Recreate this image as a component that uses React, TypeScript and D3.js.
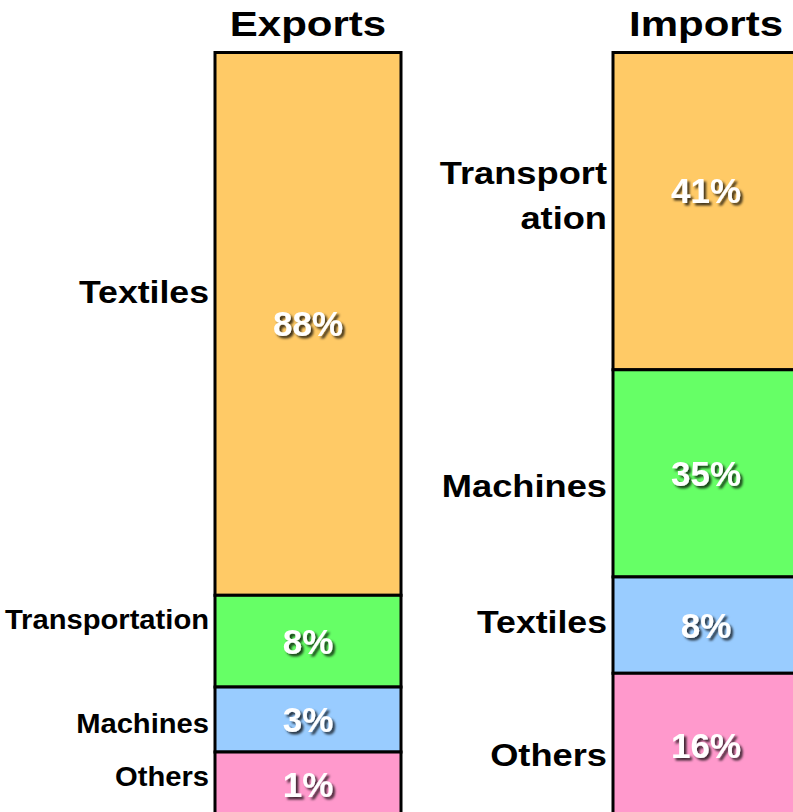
import React from "react";
import * as d3 from "d3";

// trade composition
const panels = ["Exports", "Imports"];

const exportsCategories = ["Textiles", "Transportation", "Machines", "Others"];
const exportsValues = [88, 8, 3, 1];
// the slide does not draw segments to scale, so these are the visible shares of the bar
const exportsBandShares = [71.0, 12.0, 8.5, 8.5];

const importsCategories = ["Transportation", "Machines", "Textiles", "Others"];
const importsValues = [41, 35, 8, 16];
const importsBandShares = [41.5, 27.1, 12.6, 18.8];

const colors = ["#FFCA66", "#66FF66", "#99CCFF", "#FF99CC"];

// label layout tweaks (px, relative to segment middle)
const layout = {
  Exports: {
    labelLines: [["Textiles"], ["Transportation"], ["Machines"], ["Others"]],
    labelSize: [31, 27, 27, 27],
    labelStretch: [1.15, 1.08, 1.08, 1.08],
    labelShift: [-32, -22, 4, -8],
    pctShift: [0, 0, 0, 0],
  },
  Imports: {
    labelLines: [["Transport", "ation"], ["Machines"], ["Textiles"], ["Others"]],
    labelSize: [31, 31, 31, 31],
    labelStretch: [1.17, 1.17, 1.15, 1.17],
    labelShift: [-16, 12, -3, 10],
    pctShift: [-21, 0, 0, 0],
  },
};

const W = 793;
const H = 812;
const barTop = 52.5;
const barBottom = 817;
const barWidth = 186;
const font = "'Liberation Sans', Arial, sans-serif";

function Panel({ name, cats, values, shares, cx }) {
  const total = d3.sum(shares);
  const y = d3.scaleLinear().domain([0, total]).range([barTop, barBottom]);
  const cum = d3.cumsum(shares);
  const segs = cats.map((c, i) => ({
    cat: c,
    value: values[i],
    y0: y(i === 0 ? 0 : cum[i - 1]),
    y1: y(cum[i]),
    color: colors[i],
  }));
  const lay = layout[name];
  const x0 = cx - barWidth / 2;

  return (
    <g>
      <text
        transform={`translate(${cx},36) scale(1.2,1)`}
        textAnchor="middle"
        fontFamily={font}
        fontWeight="bold"
        fontSize={35}
        fill="#000"
      >
        {name}
      </text>
      {segs.map((s, i) => (
        <rect
          key={"r" + i}
          x={x0}
          y={s.y0}
          width={barWidth}
          height={s.y1 - s.y0}
          fill={s.color}
          stroke="#000"
          strokeWidth={3}
        />
      ))}
      {segs.map((s, i) => {
        const mid = (s.y0 + s.y1) / 2 + lay.pctShift[i];
        return (
          <text
            key={"p" + i}
            x={cx}
            y={mid + 12.5}
            textAnchor="middle"
            fontFamily={font}
            fontWeight="bold"
            fontSize={35}
            fill="#fff"
            filter="url(#shadow)"
          >
            {d3.format("d")(s.value) + "%"}
          </text>
        );
      })}
      {segs.map((s, i) => {
        const lines = lay.labelLines[i];
        const fs = lay.labelSize[i];
        const lh = fs * 1.45;
        const mid = (s.y0 + s.y1) / 2 + lay.labelShift[i];
        const first = mid - ((lines.length - 1) * lh) / 2 + fs * 0.36;
        return (
          <text
            key={"l" + i}
            transform={`translate(${x0 - 6},${first}) scale(${lay.labelStretch[i]},1)`}
            textAnchor="end"
            fontFamily={font}
            fontWeight="bold"
            fontSize={fs}
            fill="#000"
          >
            {lines.map((ln, j) => (
              <tspan key={j} x={0} y={j * lh}>
                {ln}
              </tspan>
            ))}
          </text>
        );
      })}
    </g>
  );
}

export default function App() {
  const x = d3.scalePoint().domain(panels).range([308, 706]);
  return (
    <svg
      width={W}
      height={H}
      style={{ position: "absolute", left: 0, top: 0, background: "#fff" }}
    >
      <defs>
        <filter id="shadow" x="-20%" y="-20%" width="150%" height="160%">
          <feDropShadow dx={2.5} dy={2.5} stdDeviation={1.2} floodColor="#000" floodOpacity={0.75} />
        </filter>
      </defs>
      <rect width={W} height={H} fill="#fff" />
      <Panel
        name="Exports"
        cats={exportsCategories}
        values={exportsValues}
        shares={exportsBandShares}
        cx={x("Exports")}
      />
      <Panel
        name="Imports"
        cats={importsCategories}
        values={importsValues}
        shares={importsBandShares}
        cx={x("Imports")}
      />
    </svg>
  );
}
